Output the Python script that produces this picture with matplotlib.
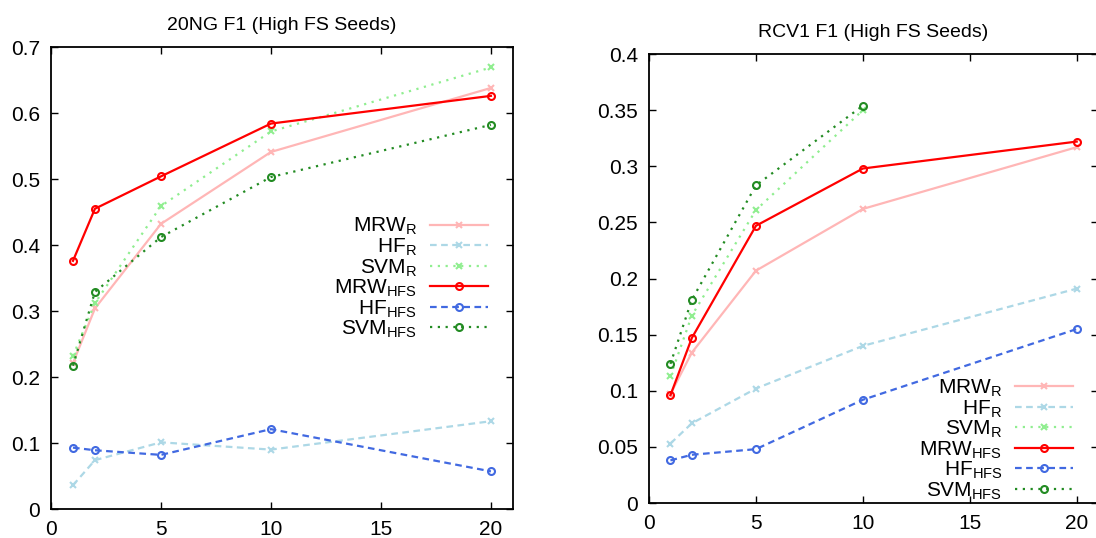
import matplotlib
matplotlib.use("Agg")
import matplotlib.pyplot as plt
from matplotlib.ticker import FuncFormatter

plt.rcParams['font.family'] = ['Liberation Sans', 'DejaVu Sans']
plt.rcParams['mathtext.fontset'] = 'custom'
plt.rcParams['mathtext.rm'] = 'Liberation Sans'

seeds = [1, 2, 5, 10, 20]
seeds_svm_rcv1 = [1, 2, 5, 10]

# 20NG F1
ng_mrw_r = [0.221, 0.304, 0.432, 0.541, 0.638]
ng_hf_r = [0.036, 0.074, 0.101, 0.090, 0.133]
ng_svm_r = [0.232, 0.312, 0.459, 0.572, 0.669]
ng_mrw_hfs = [0.376, 0.455, 0.504, 0.584, 0.626]
ng_hf_hfs = [0.093, 0.089, 0.082, 0.121, 0.057]
ng_svm_hfs = [0.217, 0.329, 0.412, 0.503, 0.582]

# RCV1 F1
rc_mrw_r = [0.097, 0.134, 0.207, 0.262, 0.317]
rc_hf_r = [0.053, 0.071, 0.102, 0.140, 0.191]
rc_svm_r = [0.113, 0.167, 0.261, 0.350]
rc_mrw_hfs = [0.096, 0.147, 0.247, 0.298, 0.322]
rc_hf_hfs = [0.038, 0.043, 0.048, 0.092, 0.155]
rc_svm_hfs = [0.124, 0.181, 0.283, 0.354]

labels = [r'MRW$_\mathregular{R}$', r'HF$_\mathregular{R}$', r'SVM$_\mathregular{R}$',
          r'MRW$_\mathregular{HFS}$', r'HF$_\mathregular{HFS}$', r'SVM$_\mathregular{HFS}$']
styles = [
    dict(color='#ffb6b6', ls='-', marker='x'),
    dict(color='#add8e6', ls=(0, (3, 2)), marker='x'),
    dict(color='#90ee90', ls=(0, (1, 2.5)), marker='x'),
    dict(color='#ff0000', ls='-', marker='o', mfc='none'),
    dict(color='#4169e1', ls=(0, (3, 2)), marker='o', mfc='none'),
    dict(color='#228b22', ls=(0, (1, 2.5)), marker='o', mfc='none'),
]


def draw(ax, xs_list, ys_list, title, ymax, ystep, legend_loc, anchor):
    for xs, ys, lab, st in zip(xs_list, ys_list, labels, styles):
        ax.plot(xs, ys, label=lab, lw=1.6, ms=5, mew=1.5, **st)
    ax.set_xlim(0, 21)
    ax.set_ylim(0, ymax)
    ax.set_xticks([0, 5, 10, 15, 20])
    n = int(round(ymax / ystep))
    ax.set_yticks([i * ystep for i in range(n + 1)])
    ax.yaxis.set_major_formatter(FuncFormatter(lambda v, p: '%g' % round(v, 3)))
    ax.tick_params(direction='in', top=True, right=True, length=5, width=1,
                   labelsize=15, pad=8)
    for s in ax.spines.values():
        s.set_linewidth(1.3)
    ax.set_title(title, fontsize=14, pad=12)
    ax.legend(loc=legend_loc, bbox_to_anchor=anchor, frameon=False,
              markerfirst=False, fontsize=15, handlelength=2.8,
              handletextpad=0.6, labelspacing=-0.05, borderaxespad=0.8)


fig = plt.figure(figsize=(10.96, 5.38), dpi=100)
ax1 = fig.add_axes([0.0465, 0.0539, 0.4215, 0.8587])
ax2 = fig.add_axes([0.5922, 0.065, 0.4097, 0.8346])

draw(ax1, [seeds] * 6,
     [ng_mrw_r, ng_hf_r, ng_svm_r, ng_mrw_hfs, ng_hf_hfs, ng_svm_hfs],
     '20NG F1 (High FS Seeds)', 0.7, 0.1, 'center right', None)
draw(ax2, [seeds, seeds, seeds_svm_rcv1, seeds, seeds, seeds_svm_rcv1],
     [rc_mrw_r, rc_hf_r, rc_svm_r, rc_mrw_hfs, rc_hf_hfs, rc_svm_hfs],
     'RCV1 F1 (High FS Seeds)', 0.4, 0.05, 'lower right', (1, -0.053))

fig.savefig('out.png', dpi=100)
